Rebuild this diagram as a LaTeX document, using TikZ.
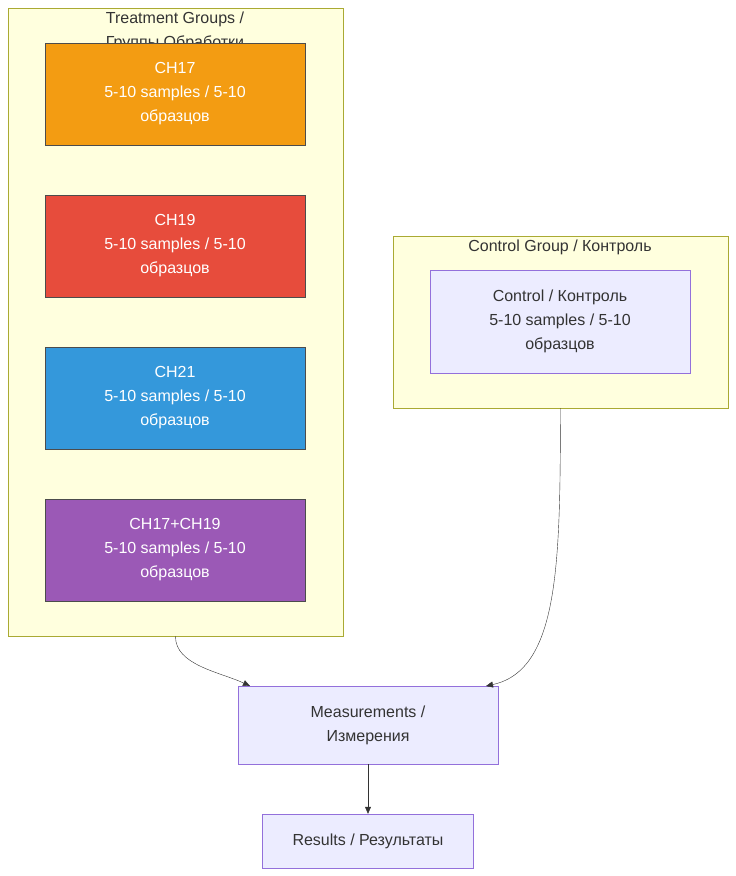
\documentclass[tikz,border=0pt]{standalone}
\usepackage{fontspec}
\setmainfont{Liberation Sans}
\usetikzlibrary{arrows.meta,positioning}
\definecolor{clfill}{HTML}{FFFFDE}
\definecolor{cldraw}{HTML}{AAAA33}
\definecolor{ndfill}{HTML}{ECECFF}
\definecolor{nddraw}{HTML}{9370DB}
\definecolor{txt}{HTML}{333333}
\definecolor{cha}{HTML}{F39C12}
\definecolor{chb}{HTML}{E74C3C}
\definecolor{chc}{HTML}{3498DB}
\definecolor{chd}{HTML}{9B59B6}
\tikzset{
  cluster/.style={draw=cldraw,fill=clfill,inner sep=0pt},
  group/.style={draw=black!70,fill=#1,text=white,minimum width=260pt,minimum height=102pt,align=center,inner sep=0pt},
  plain/.style={draw=nddraw,fill=ndfill,text=txt,align=center,inner sep=0pt},
  link/.style={draw=txt,-{Triangle[length=7pt,width=6pt]}}
}
\begin{document}
\begin{tikzpicture}[x=1pt,y=-1pt,font=\fontsize{16}{24}\selectfont]
\useasboundingbox (0,0) rectangle (736,876);
% clusters
\node[cluster,minimum width=335pt,minimum height=628pt] (treat) at (175.5,322) {};
\node[text=txt,align=center] (treattitle) at (175,31) {Treatment Groups /\\Группы Обработки};
\node[cluster,minimum width=335pt,minimum height=172pt] (ctrl) at (560.5,322) {};
\node[text=txt] (ctrltitle) at (560,247) {Control Group / Контроль};
% groups
\node[group=cha] (ch17) at (175,94) {CH17\\5-10 samples / 5-10\\образцов};
\node[group=chb] (ch19) at (175,246) {CH19\\5-10 samples / 5-10\\образцов};
\node[group=chc] (ch21) at (175,398) {CH21\\5-10 samples / 5-10\\образцов};
\node[group=chd] (chmix) at (175,550) {CH17+CH19\\5-10 samples / 5-10\\образцов};
\node[plain,minimum width=260pt,minimum height=103pt] (control) at (560,321.5) {Control / Контроль\\5-10 samples / 5-10\\образцов};
% results
\node[plain,minimum width=260pt,minimum height=78pt] (meas) at (368,725) {Measurements /\\Измерения};
\node[plain,minimum width=211pt,minimum height=54pt] (res) at (368,841) {Results / Результаты};
\coordinate (measl) at (250,686);
\coordinate (measr) at (486,686);
\draw[link] (treat.south) .. controls (175,665) and (220,672) .. (measl);
\draw[link] (ctrl.south) .. controls (560,560) and (560,670) .. (measr);
\draw[link] (meas) -- (res);
\end{tikzpicture}
\end{document}
